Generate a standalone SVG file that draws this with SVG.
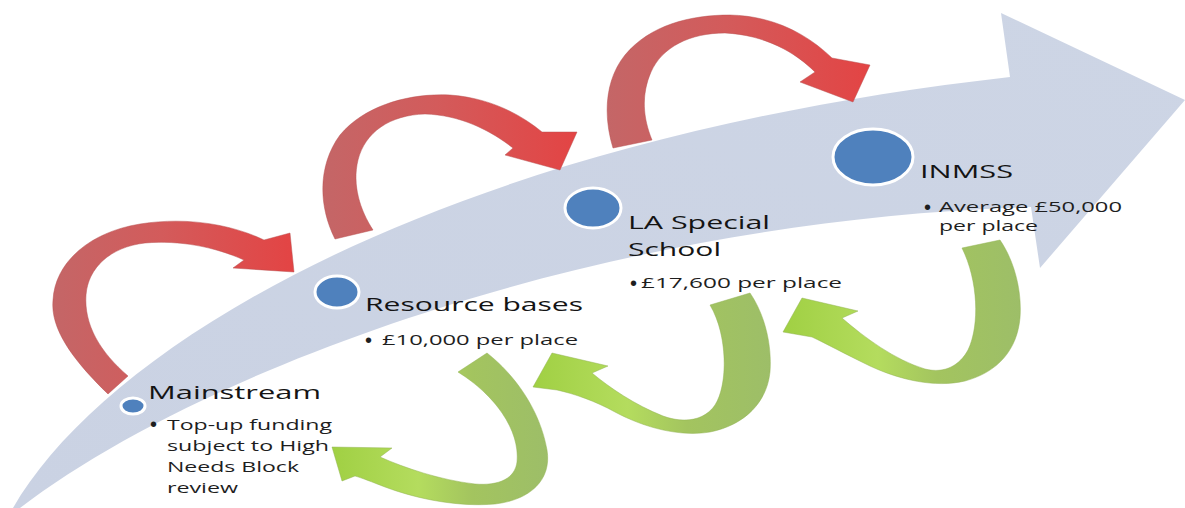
<svg xmlns="http://www.w3.org/2000/svg" width="1185" height="508" viewBox="0 0 1185 508">
  <defs>
    <linearGradient id="redGrad" x1="0" y1="0" x2="1" y2="0">
      <stop offset="0" stop-color="#C46667"/>
      <stop offset="0.45" stop-color="#D35B5B"/>
      <stop offset="1" stop-color="#E34444"/>
    </linearGradient>
    <linearGradient id="greenGrad" x1="1" y1="0" x2="0" y2="0">
      <stop offset="0" stop-color="#9DBE68"/>
      <stop offset="0.35" stop-color="#A3C45F"/>
      <stop offset="0.6" stop-color="#B4DC5E"/>
      <stop offset="1" stop-color="#A0D043"/>
    </linearGradient>
    <linearGradient id="bandGrad" x1="0" y1="1" x2="1" y2="0">
      <stop offset="0" stop-color="#CAD2E3"/>
      <stop offset="1" stop-color="#CDD5E5"/>
    </linearGradient>
  </defs>
  <style>
    .red { fill: url(#redGrad); stroke: #B85050; stroke-width: 0.8; stroke-opacity: 0.6; }
    .green { fill: url(#greenGrad); stroke: #8FB050; stroke-width: 0.8; stroke-opacity: 0.6; }
    .dot { fill: #4F81BD; stroke: #FFFFFF; stroke-width: 3; }
    .head { font-family: "Open Sans", "Liberation Sans", sans-serif; font-size: 19px; fill: #141414; }
    .item { font-family: "Open Sans", "Liberation Sans", sans-serif; font-size: 14px; fill: #1E1E1E; }
    .bullet { font-family: "Liberation Sans", sans-serif; font-size: 20px; fill: #1E1E1E; }
  </style>
  <rect x="0" y="0" width="1185" height="508" fill="#FFFFFF"/>

  <g id="progression-band">
    <path d="M13,508 C110,340 450,140 1010,77 L1001,13 L1185,100 L1040,268 L1031,207 C600,220 200,370 20,508 Z" fill="url(#bandGrad)"/>
  </g>

  <g id="connectors">
    <path class="red" d="M108,394 C75,362 50,330 53,300 C55,262 90,232 140,224 C190,216 235,226 264,240 L290,233 L294,272 L233,268 L244,260 C215,247 180,240 145,243 C110,247 88,268 86,295 C84,325 100,352 128,376 Z"/>
    <path class="red" d="M335,239 C318,205 318,165 340,135 C365,105 410,93 450,95 C490,98 520,114 542,132 L577,132 L560,170 L505,155 L513,148 C490,130 460,115 425,114 C390,115 365,132 358,160 C352,185 360,210 373,230 Z"/>
    <path class="red" d="M613,148 C603,115 605,80 625,55 C650,25 690,15 730,15 C775,16 808,35 832,58 L870,65 L853,102 L800,82 L815,72 C795,52 765,35 725,33 C690,33 662,47 651,72 C641,95 643,118 652,140 Z"/>
    <path class="green" d="M458,372 L487,353 C515,375 540,410 547,450 C552,480 530,500 495,504 C460,507 420,500 385,487 C372,482 362,478 355,476 L342,481 L332,447 L392,448 L380,457 C405,468 440,480 475,484 C500,486 515,478 517,462 C520,430 495,395 458,372 Z"/>
    <path class="green" d="M710,305 L750,293 C765,315 772,345 770,372 C767,402 745,425 710,432 C680,437 645,428 615,412 C595,401 575,394 557,390 L533,387 L552,353 L608,366 L592,373 C610,388 635,405 663,416 C685,424 705,420 715,405 C728,385 728,335 710,305 Z"/>
    <path class="green" d="M962,248 L1000,240 C1015,262 1022,292 1020,318 C1017,350 998,372 965,381 C935,388 900,380 870,366 C845,354 825,343 812,337 L783,332 L802,298 L858,311 L842,318 C865,338 895,360 925,369 C945,374 960,365 968,350 C980,325 978,280 962,248 Z"/>
  </g>

  <g id="node-mainstream">
    <ellipse class="dot" cx="133" cy="406" rx="12" ry="8"/>
    <text class="head" x="148" y="399" textLength="173" lengthAdjust="spacingAndGlyphs">Mainstream</text>
    <text class="bullet" x="150" y="431">•</text>
    <text class="item" x="167" y="430" textLength="165" lengthAdjust="spacingAndGlyphs">Top-up funding</text>
    <text class="item" x="167" y="451" textLength="162" lengthAdjust="spacingAndGlyphs">subject to High</text>
    <text class="item" x="167" y="472" textLength="132" lengthAdjust="spacingAndGlyphs">Needs Block</text>
    <text class="item" x="167" y="493" textLength="71" lengthAdjust="spacingAndGlyphs">review</text>
  </g>

  <g id="node-resource-bases">
    <ellipse class="dot" cx="337" cy="292" rx="22" ry="16"/>
    <text class="head" x="365" y="311" textLength="218" lengthAdjust="spacingAndGlyphs">Resource bases</text>
    <text class="bullet" x="365" y="347">•</text>
    <text class="item" x="382" y="345" textLength="196" lengthAdjust="spacingAndGlyphs">£10,000 per place</text>
  </g>

  <g id="node-la-special-school">
    <ellipse class="dot" cx="593" cy="208" rx="28" ry="20"/>
    <text class="head" x="628" y="229" textLength="142" lengthAdjust="spacingAndGlyphs">LA Special</text>
    <text class="head" x="628" y="256" textLength="93" lengthAdjust="spacingAndGlyphs">School</text>
    <text class="bullet" x="630" y="290">•</text>
    <text class="item" x="641" y="288" textLength="201" lengthAdjust="spacingAndGlyphs">£17,600 per place</text>
  </g>

  <g id="node-inmss">
    <ellipse class="dot" cx="873" cy="157" rx="40" ry="28"/>
    <text class="head" x="920" y="178" textLength="93" lengthAdjust="spacingAndGlyphs">INMSS</text>
    <text class="bullet" x="924" y="214">•</text>
    <text class="item" x="939" y="212" textLength="183" lengthAdjust="spacingAndGlyphs">Average £50,000</text>
    <text class="item" x="939" y="231" textLength="99" lengthAdjust="spacingAndGlyphs">per place</text>
  </g>
</svg>
